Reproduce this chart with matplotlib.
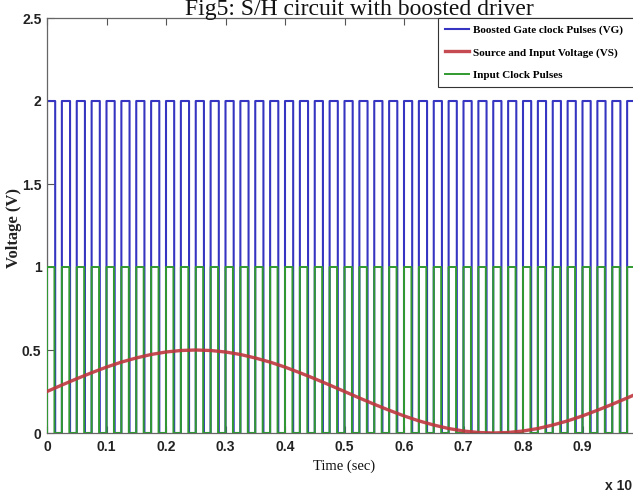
import numpy as np
import matplotlib
matplotlib.use("Agg")
import matplotlib.pyplot as plt

# ---------------- data ----------------
# clock parameters (time in units of 1e-3 s)
clk_period = 0.025
n_cycles = 41
clk_high = 1.0          # Input clock pulse level (V)
vg_high = 2.0           # Boosted gate level (V)
clk_duty = 0.50
vg_duty = 0.55

# source / input voltage samples
vs_t = [0.000, 0.025, 0.050, 0.075, 0.100, 0.125, 0.150, 0.175, 0.200, 0.225,
        0.250, 0.275, 0.300, 0.325, 0.350, 0.375, 0.400, 0.425, 0.450, 0.475,
        0.500, 0.525, 0.550, 0.575, 0.600, 0.625, 0.650, 0.675, 0.700, 0.725,
        0.750, 0.775, 0.800, 0.825, 0.850, 0.875, 0.900, 0.925, 0.950, 0.975,
        1.000]
vs_v = [0.250, 0.289, 0.327, 0.363, 0.397, 0.427, 0.452, 0.473, 0.488, 0.497,
        0.500, 0.497, 0.488, 0.473, 0.452, 0.427, 0.397, 0.363, 0.327, 0.289,
        0.250, 0.211, 0.173, 0.137, 0.103, 0.073, 0.048, 0.027, 0.012, 0.003,
        0.000, 0.003, 0.012, 0.027, 0.048, 0.073, 0.103, 0.137, 0.173, 0.211,
        0.250]

x_ticks = [0, 0.1, 0.2, 0.3, 0.4, 0.5, 0.6, 0.7, 0.8, 0.9]
x_tick_labels = ['0', '0.1', '0.2', '0.3', '0.4', '0.5', '0.6', '0.7', '0.8', '0.9']
y_ticks = [0, 0.5, 1, 1.5, 2, 2.5]
y_tick_labels = ['0', '0.5', '1', '1.5', '2', '2.5']

labels = ['Boosted Gate clock Pulses (VG)', 'Source and Input Voltage (VS)', 'Input Clock Pulses']


def square_wave(period, duty, level, n):
    t, v = [], []
    for k in range(n):
        t0 = k * period
        t1 = t0 + duty * period
        t += [t0, t0, t1, t1]
        v += [0.0, level, level, 0.0]
    return np.array(t), np.array(v)


vg_t, vg_v = square_wave(clk_period, vg_duty, vg_high, n_cycles)
ck_t, ck_v = square_wave(clk_period, clk_duty, clk_high, n_cycles)

# ---------------- figure ----------------
W, H = 633, 494
fig = plt.figure(figsize=(W / 100, H / 100), dpi=100, facecolor='white')
ax_left, ax_right, ax_top, ax_bottom = 47, 642, 18, 433
ax = fig.add_axes([ax_left / W, 1 - ax_bottom / H, (ax_right - ax_left) / W, (ax_bottom - ax_top) / H])

c_blue = '#3535c2'
c_red = '#c0363e'
c_green = '#309a30'

l1, = ax.plot(vg_t, vg_v, color=c_blue, lw=1.5, zorder=2, snap=False)
l2, = ax.plot(vs_t, vs_v, color=c_red, lw=2.4, zorder=4, alpha=0.9)
l3, = ax.plot(ck_t, ck_v, color=c_green, lw=1.4, zorder=3, snap=False)

ax.set_xlim(0, 1.0)
ax.set_ylim(0, 2.5)

tick_font = dict(family='Liberation Sans', weight='bold', size=10)
ax.set_xticks(x_ticks)
ax.set_xticklabels(x_tick_labels, **tick_font, color='#222222')
ax.set_yticks(y_ticks)
ax.set_yticklabels(y_tick_labels, **tick_font, color='#222222')
ax.tick_params(direction='in', top=True, right=True, length=5, width=0.8,
               color='#555555', pad=4)
ax.tick_params(axis='x', pad=5)
for s in ax.spines.values():
    s.set_color('#666666')
    s.set_linewidth(0.9)

leg = ax.legend([l1, l2, l3], labels, loc='upper left',
                bbox_to_anchor=(0.657, 0.0, 0.343, 1.0), mode='expand',
                borderaxespad=0, fancybox=False, frameon=True, framealpha=1,
                edgecolor='#333333', handlelength=2.2, handletextpad=0.4,
                labelspacing=1.15, borderpad=0.6,
                prop=dict(family='Liberation Serif', weight='bold', size=8))
leg.get_frame().set_linewidth(0.8)
leg.set_zorder(10)

fig.text(359 / W, 1 - 15 / H, 'Fig5: S/H circuit with boosted driver',
         ha='center', va='baseline', family='Liberation Serif', size=17, color='#111111')
fig.text(14 / W, 1 - 228 / H, 'Voltage (V)', rotation=90, ha='center', va='center',
         family='Liberation Serif', weight='bold', size=12, color='#222222')
fig.text(344 / W, 1 - 466 / H, 'Time (sec)', ha='center', va='center',
         family='Liberation Serif', size=10.5, color='#111111')
fig.text(632 / W, 1 - 486 / H, 'x 10', ha='right', va='center', **tick_font, color='#222222')

fig.savefig('out.png', dpi=100, facecolor='white')
